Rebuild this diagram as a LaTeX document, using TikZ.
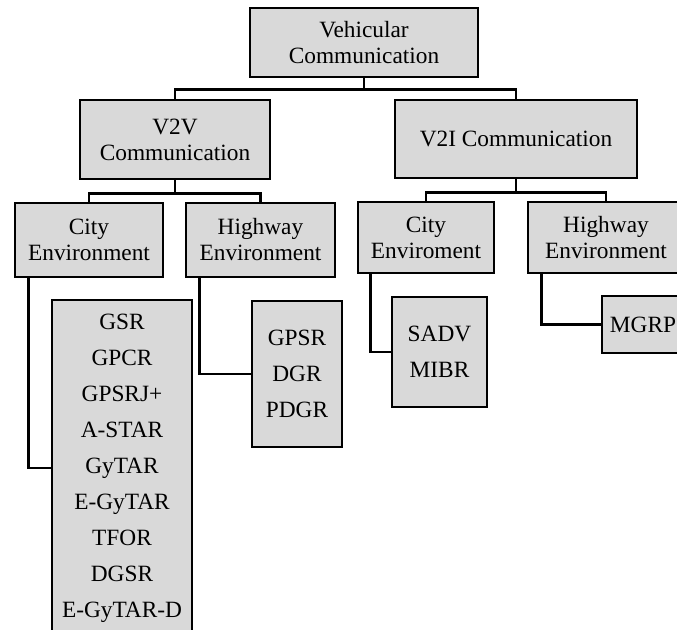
\documentclass[tikz,border=0pt]{standalone}
\usepackage{fontspec}
\setmainfont{Liberation Serif}
\definecolor{boxgray}{HTML}{D9D9D9}
\tikzset{
	box/.style={draw, line width=2.1pt, fill=boxgray, align=center, inner sep=0pt,
		font=\fontsize{17.5}{19.5}\selectfont},
	listbox/.style={box, font=\fontsize{17.5}{27}\selectfont},
	conn/.style={line width=2.1pt},
}

\begin{document}
\begin{tikzpicture}[x=0.75pt, y=-0.75pt]
	\useasboundingbox (0,0) rectangle (677,630);
	\clip (0,0) rectangle (677,630);
	% main levels
	\node[box, minimum width=171pt, minimum height=51.75pt] (veh) at (364,42.5) {Vehicular\\Communication};
	\node[box, minimum width=142.5pt, minimum height=59.25pt] (v2v) at (175,139.5) {V2V\\Communication};
	\node[box, minimum width=181.5pt, minimum height=58.5pt] (v2i) at (516,139) {V2I Communication};
	% environments
	\node[box, minimum width=111pt, minimum height=55.5pt] (v2vcity) at (89,240) {City\\Environment};
	\node[box, minimum width=111.75pt, minimum height=55.5pt] (v2vhwy) at (260.5,240) {Highway\\Environment};
	\node[box, minimum width=102pt, minimum height=53.25pt] (v2icity) at (426,237.5) {City\\Enviroment};
	\node[box, minimum width=117pt, minimum height=53.25pt] (v2ihwy) at (606,237.5) {Highway\\Environment};
	% protocols
	\node[listbox, minimum width=105pt, minimum height=252pt] (citylist) at (122,468)
		{GSR\\GPCR\\GPSRJ+\\A-STAR\\GyTAR\\E-GyTAR\\TFOR\\DGSR\\E-GyTAR-D};
	\node[listbox, minimum width=67.5pt, minimum height=109.5pt] (hwylist) at (297,374) {GPSR\\DGR\\PDGR};
	\node[listbox, minimum width=71.25pt, minimum height=82.5pt] (v2icitylist) at (439.5,352) {SADV\\MIBR};
	\node[listbox, minimum width=61.5pt, minimum height=42.75pt] (v2ihwylist) at (643,324.5) {MGRP};
	% connectors
	\draw[conn] (veh.south) -- ++(0,11) -| (v2v.north);
	\draw[conn] (veh.south) -- ++(0,11) -| (v2i.north);
	\draw[conn] (v2v.south) -- ++(0,13) -| (v2vcity.north);
	\draw[conn] (v2v.south) -- ++(0,13) -| (v2vhwy.north);
	\draw[conn] (v2i.south) -- ++(0,13) -| (v2icity.north);
	\draw[conn] (v2i.south) -- ++(0,13) -| (v2ihwy.north);
	\draw[conn] ([xshift=11.25pt]v2vcity.south west) |- (citylist.west);
	\draw[conn] ([xshift=11.25pt]v2vhwy.south west) |- (hwylist.west);
	\draw[conn] ([xshift=10.5pt]v2icity.south west) |- (v2icitylist.west);
	\draw[conn] ([xshift=11.25pt]v2ihwy.south west) |- (v2ihwylist.west);
\end{tikzpicture}
\end{document}
